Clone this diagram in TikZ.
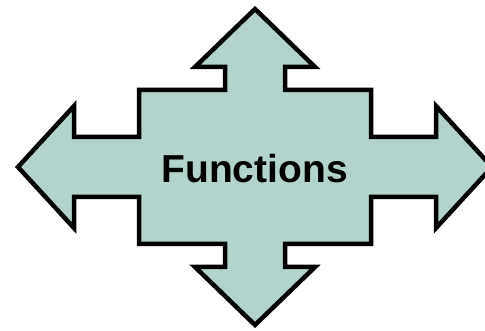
\documentclass[tikz,border=0pt]{standalone}
\usepackage{fontspec}
\setmainfont{Liberation Sans}
\definecolor{wwzzcc}{rgb}{0.70,0.83,0.80}
\definecolor{qqqqqq}{rgb}{0,0,0}
\begin{document}
\begin{tikzpicture}[line cap=round,line join=miter,x=1pt,y=1pt]
\clip(0,0) rectangle (485,331);
% four way arrow, centre (255,164)
\draw [color=qqqqqq,fill=wwzzcc,line width=4.5pt,shift={(255,164)}]
  (0,158) -- (60,100) -- (30,100) -- (30,77) -- (116,77) -- (116,30) -- (181,30) -- (181,61)
  -- (237,0) -- (181,-61) -- (181,-30) -- (116,-30) -- (116,-77) -- (30,-77) -- (30,-100) -- (60,-100)
  -- (0,-158) -- (-60,-100) -- (-30,-100) -- (-30,-77) -- (-116,-77) -- (-116,-30) -- (-181,-30) -- (-181,-61)
  -- (-237,0) -- (-181,61) -- (-181,30) -- (-116,30) -- (-116,77) -- (-30,77) -- (-30,100) -- (-60,100) -- cycle;
\node [anchor=base,inner sep=0pt] (fn) at (254.5,148) {\fontsize{39}{39}\selectfont\bfseries Functions};
\end{tikzpicture}
\end{document}
